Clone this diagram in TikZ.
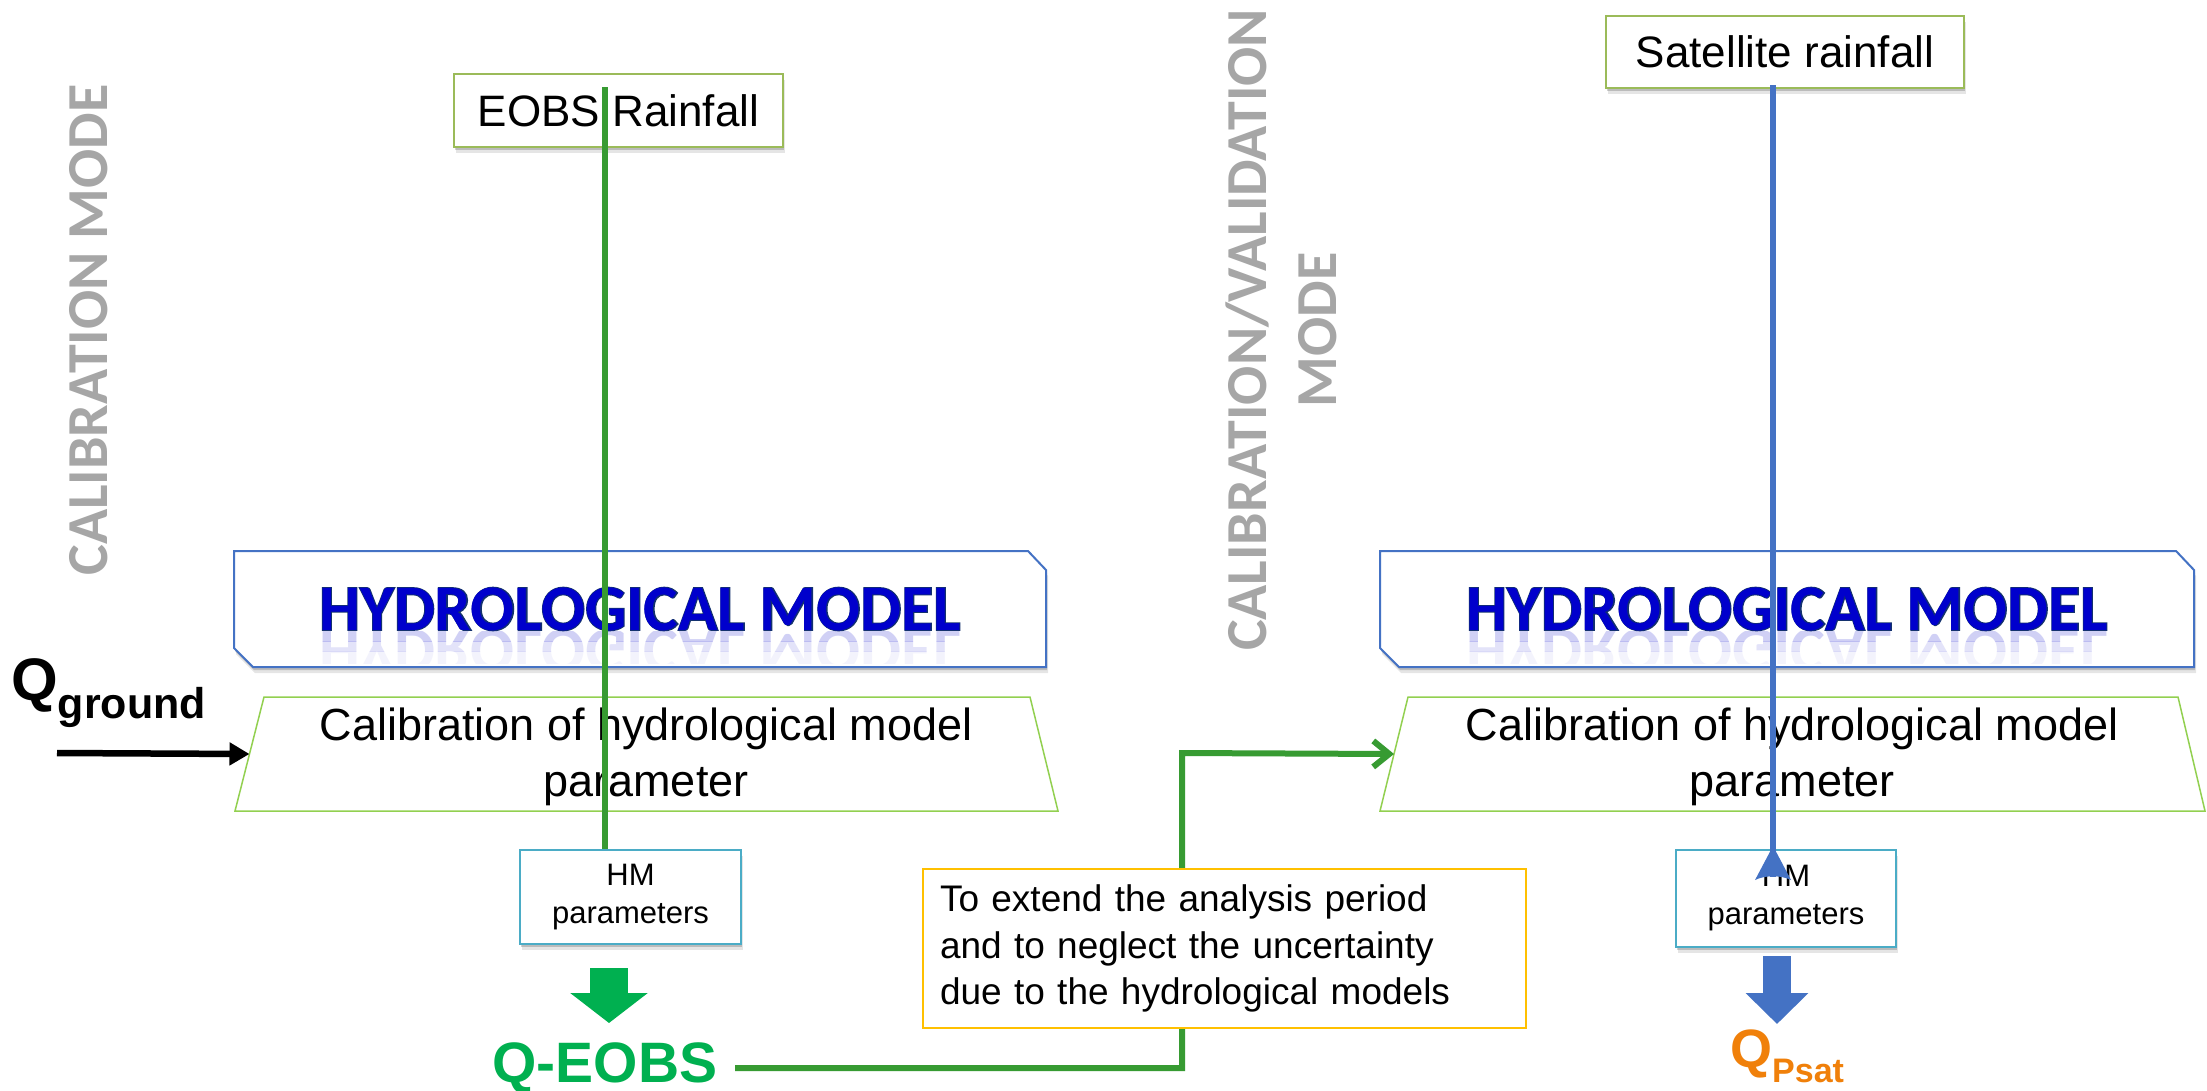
\documentclass[tikz,border=0pt]{standalone}
\usepackage{fontspec}
\usepackage{graphicx}
\setmainfont{Liberation Sans}
\newfontfamily\calibri{Carlito}
\newfontfamily\calibrithick[FakeBold=2.5]{Carlito}
\usetikzlibrary{arrows.meta,shadows}
\definecolor{hmblue}{RGB}{68,114,196}
\definecolor{hmtext}{RGB}{0,0,204}
\definecolor{hmedge}{RGB}{20,50,110}
\definecolor{trapgreen}{RGB}{146,208,80}
\definecolor{boxgreen}{RGB}{155,187,89}
\definecolor{tealc}{RGB}{75,172,198}
\definecolor{linegreen}{RGB}{55,155,50}
\definecolor{qgreen}{RGB}{0,176,80}
\definecolor{goldc}{RGB}{255,192,0}
\definecolor{modegray}{RGB}{166,166,166}
\definecolor{qorange}{RGB}{240,128,10}
\tikzset{
 softshadow/.style={drop shadow={shadow xshift=1pt, shadow yshift=-3pt, opacity=0.18, fill=black},
                    drop shadow={shadow xshift=2pt, shadow yshift=-6pt, opacity=0.10, fill=black}},
 rainbox/.style={draw=boxgreen, line width=2pt, fill=white, inner sep=0pt, softshadow, font=\fontsize{44}{52}\selectfont},
 parbox/.style={draw=tealc, line width=2pt, fill=white, inner sep=0pt, align=center, softshadow, font=\fontsize{31}{38}\selectfont},
 hmshape/.style={draw=hmblue, line width=2pt, fill=white, softshadow},
 hmlabel/.style={font=\calibri\bfseries\fontsize{65}{70}\selectfont, text=hmtext, inner sep=0pt},
 hmedgelabel/.style={font=\calibrithick\bfseries\fontsize{65}{70}\selectfont, text=hmedge, inner sep=0pt},
 trapshape/.style={draw=trapgreen, line width=1.5pt, fill=white},
 caltext/.style={font=\fontsize{45}{56}\selectfont, align=center, inner sep=0pt},
 modetext/.style={font=\calibri\bfseries\fontsize{58}{70}\selectfont, text=modegray, rotate=90, align=center, inner sep=0pt},
 gline/.style={draw=linegreen, line width=6pt},
 bline/.style={draw=hmblue, line width=6pt},
 notebox/.style={draw=goldc, line width=2pt, fill=white, text width=569pt, inner xsep=17pt, inner ysep=0pt, minimum height=159pt, align=left, font=\fontsize{37}{46.5}\selectfont}
}
\begin{document}
\begin{tikzpicture}[x=1pt,y=-1pt]
\useasboundingbox (0,0) rectangle (2207,1090);
\fill[white] (0,0) rectangle (2207,1090);

% mode labels
\node[modetext] (modeL) at (89,330) {CALIBRATION MODE};
\node[modetext] (modeR) at (1281,330) {CALIBRATION/VALIDATION\\MODE};

% hydrological model boxes
\draw[hmshape] (234,551) -- (1028,551) -- (1046,570) -- (1046,667) -- (253,667) -- (234,648) -- cycle;
\draw[hmshape] (1380,551) -- (2176,551) -- (2194,570) -- (2194,667) -- (1399,667) -- (1380,648) -- cycle;
\begin{scope}
 \clip (260,631) rectangle (2150,641);
 \node[hmlabel, text=hmtext!60, opacity=0.3] at (640,651) {\scalebox{1}[-1]{HYDROLOGICAL MODEL}};
 \node[hmlabel, text=hmtext!60, opacity=0.3] at (1787,651) {\scalebox{1}[-1]{HYDROLOGICAL MODEL}};
\end{scope}
\begin{scope}
 \clip (260,641) rectangle (2150,651);
 \node[hmlabel, text=hmtext!60, opacity=0.18] at (640,651) {\scalebox{1}[-1]{HYDROLOGICAL MODEL}};
 \node[hmlabel, text=hmtext!60, opacity=0.18] at (1787,651) {\scalebox{1}[-1]{HYDROLOGICAL MODEL}};
\end{scope}
\begin{scope}
 \clip (260,651) rectangle (2150,663);
 \node[hmlabel, text=hmtext!60, opacity=0.08] at (640,651) {\scalebox{1}[-1]{HYDROLOGICAL MODEL}};
 \node[hmlabel, text=hmtext!60, opacity=0.08] at (1787,651) {\scalebox{1}[-1]{HYDROLOGICAL MODEL}};
\end{scope}
\node[hmedgelabel] (hmLedge) at (640,609) {HYDROLOGICAL MODEL};
\node[hmedgelabel] (hmRedge) at (1787,609) {HYDROLOGICAL MODEL};
\node[hmlabel] (hmL) at (640,609) {HYDROLOGICAL MODEL};
\node[hmlabel] (hmR) at (1787,609) {HYDROLOGICAL MODEL};

% calibration trapezoids
\draw[trapshape] (264,697) -- (1030,697) -- (1058,811) -- (235,811) -- cycle;
\draw[trapshape] (1408,697) -- (2178,697) -- (2205,811) -- (1380,811) -- cycle;
\coordinate (calLw) at (249.5,754);
\coordinate (calRw) at (1394,754);
\node[caltext] (calL) at (646,757) {Calibration of hydrological model\\parameter};
\node[caltext] (calR) at (1792,757) {Calibration of hydrological model\\parameter};

% rainfall boxes
\node[rainbox, minimum width=329pt, minimum height=73pt] (eobs) at (618.5,110.5) {EOBS Rainfall};
\node[rainbox, minimum width=358pt, minimum height=72pt] (sat) at (1785,52) {Satellite rainfall};

% HM parameter boxes
\node[parbox, minimum width=221pt, minimum height=94pt] (hmpL) at (630.5,897) {HM\\parameters};
\node[parbox, minimum width=220pt, minimum height=97pt] (hmpR) at (1786,898.5) {HM\\parameters};

% rainfall lines
\coordinate (g0) at (605,87);
\draw[gline] (g0) -- (g0 |- hmpL.north);
\coordinate (b0) at (1773,85);
\coordinate (b1) at (1773,877);
\draw[bline] (b0) -- (b1);
\fill[hmblue] (1773,846) -- (1791,880) .. controls (1781,875) and (1765,875) .. (1755,880) -- cycle;

% Q ground
\node[font=\bfseries\fontsize{60}{64}\selectfont, inner sep=0pt, anchor=base west] (qground) at (11,700) {Q\raisebox{-18pt}{\fontsize{43}{43}\selectfont ground}};
\coordinate (qa) at (57,753);
\draw[line width=6.5pt, -{Triangle[length=20pt,width=22pt]}] (qa) -- (calLw);

% outputs
\node[font=\bfseries\fontsize{57}{60}\selectfont, text=qgreen, inner sep=0pt, anchor=base] (qeobs) at (605,1082) {Q-EOBS};
\node[font=\bfseries\fontsize{54}{60}\selectfont, text=qorange, inner sep=0pt, anchor=base west] (qpsat) at (1730,1067) {Q\raisebox{-15pt}{\fontsize{34}{34}\selectfont Psat}};

\coordinate (ga1) at (609,968);
\coordinate (ga2) at (609,1023);
\draw[qgreen, line width=38pt, -{Triangle[length=30pt,width=76pt]}] (ga1) -- (ga2);
\coordinate (ba1) at (1777,956);
\coordinate (ba2) at (1777,1024);
\draw[hmblue, line width=28pt, -{Triangle[length=31pt,width=61pt]}] (ba1) -- (ba2);

% elbow connector
\coordinate (gstart) at (735,1068);
\coordinate (gbend) at (1182,753);
\draw[gline, -{Straight Barb[length=16pt,width=26pt]}] (gstart) -| (gbend) -- (calRw);

% note
\node[notebox] (note) at (1224.5,948.5) {To extend the analysis period\\and to neglect the uncertainty\\due to the hydrological models};
\end{tikzpicture}
\end{document}
